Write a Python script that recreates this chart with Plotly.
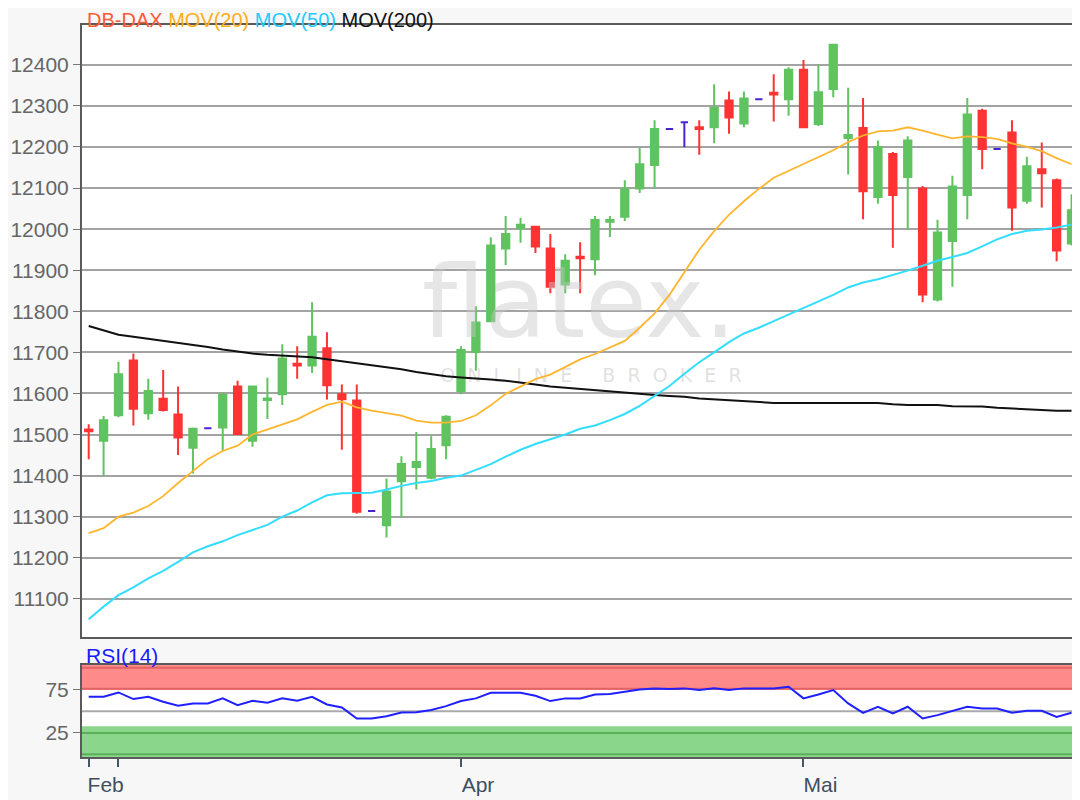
import plotly.graph_objects as go

# ---------------- data ----------------
opens = [11512, 11485, 11547, 11680, 11552, 11587, 11549, 11468, 11515, 11517,
         11617, 11485, 11584, 11598, 11672, 11668, 11710, 11598, 11583, 11314,
         11279, 11386, 11421, 11395, 11474, 11606, 11701, 11776, 11953, 12002,
         12006, 11953, 11865, 11933, 11927, 12018, 12030, 12099, 12156, 12244,
         12260, 12248, 12248, 12313, 12257, 12316, 12332, 12316, 12388, 12256,
         12341, 12222, 12246, 12078, 12183, 12127, 12099, 11829, 11971, 12083,
         12288, 12195, 12235, 12069, 12146, 12119, 11965]
highs = [11525, 11545, 11677, 11697, 11636, 11657, 11617, 11517, 11515, 11603,
         11631, 11617, 11638, 11720, 11715, 11822, 11749, 11622, 11622, 11314,
         11393, 11447, 11506, 11496, 11547, 11715, 11812, 11980, 12032, 12028,
         12006, 11988, 11939, 11968, 12032, 12032, 12119, 12198, 12265, 12244,
         12260, 12265, 12353, 12335, 12335, 12316, 12377, 12394, 12412, 12400,
         12449, 12344, 12319, 12216, 12188, 12226, 12105, 12023, 12130, 12319,
         12293, 12195, 12265, 12176, 12211, 12123, 12085]
lows = [11440, 11400, 11542, 11522, 11536, 11556, 11450, 11405, 11515, 11460,
        11499, 11470, 11538, 11572, 11636, 11650, 11585, 11463, 11307, 11314,
        11249, 11298, 11366, 11391, 11440, 11598, 11655, 11776, 11913, 11967,
        11942, 11844, 11844, 11844, 11888, 11981, 12020, 12088, 12099, 12244,
        12200, 12181, 12209, 12232, 12248, 12316, 12262, 12276, 12248, 12251,
        12321, 12133, 12024, 12062, 11955, 12000, 11822, 11824, 11860, 12024,
        12146, 12195, 11996, 12062, 12053, 11922, 11960]
closes = [11508, 11535, 11647, 11563, 11606, 11560, 11493, 11514, 11515, 11597,
          11501, 11617, 11588, 11685, 11668, 11738, 11620, 11586, 11312, 11314,
          11361, 11428, 11433, 11465, 11543, 11706, 11773, 11960, 11988, 12011,
          11958, 11860, 11923, 11929, 12022, 12022, 12097, 12158, 12244, 12244,
          12260, 12244, 12295, 12272, 12318, 12316, 12328, 12388, 12248, 12333,
          12449, 12229, 12092, 12200, 12083, 12216, 11841, 11992, 12104, 12279,
          12195, 12195, 12053, 12153, 12136, 11948, 12046]

mov20 = [11260, 11272, 11300, 11310, 11326, 11350, 11382, 11410, 11440, 11460,
         11473, 11500, 11512, 11524, 11537, 11555, 11572, 11580, 11566, 11558,
         11552, 11546, 11534, 11529, 11529, 11533, 11547, 11571, 11599, 11618,
         11635, 11646, 11664, 11683, 11696, 11712, 11728, 11760, 11795, 11840,
         11895, 11950, 11995, 12035, 12068, 12098, 12125, 12142, 12160, 12175,
         12192, 12212, 12228, 12238, 12240, 12248, 12240, 12230, 12221, 12226,
         12224, 12220, 12209, 12200, 12190, 12173, 12158]
mov50 = [11050, 11081, 11109, 11128, 11150, 11168, 11190, 11213, 11228, 11240,
         11255, 11268, 11280, 11300, 11315, 11335, 11352, 11357, 11358, 11358,
         11366, 11375, 11382, 11387, 11395, 11400, 11414, 11428, 11446, 11463,
         11477, 11488, 11500, 11514, 11522, 11535, 11550, 11570, 11593, 11618,
         11648, 11676, 11700, 11725, 11746, 11760, 11776, 11792, 11808, 11825,
         11840, 11858, 11870, 11878, 11888, 11899, 11911, 11923, 11932, 11942,
         11958, 11975, 11988, 11996, 11999, 12004, 12011]
mov200 = [11764, 11754, 11743, 11738, 11733, 11728, 11723, 11719, 11713, 11707,
          11702, 11697, 11694, 11692, 11691, 11688, 11683, 11678, 11674, 11669,
          11664, 11659, 11652, 11647, 11642, 11639, 11637, 11634, 11631, 11627,
          11622, 11617, 11614, 11611, 11608, 11605, 11601, 11598, 11596, 11594,
          11592, 11588, 11586, 11583, 11581, 11579, 11577, 11577, 11577, 11577,
          11577, 11577, 11577, 11577, 11574, 11572, 11572, 11572, 11569, 11568,
          11568, 11565, 11563, 11562, 11559, 11558, 11558]
rsi14 = [66.9, 66.9, 71.9, 64.2, 66.9, 61.1, 56.4, 59.2, 59.2, 65.0,
         57.2, 62.2, 59.9, 65.0, 62.2, 66.9, 58.0, 54.5, 41.7, 41.7,
         44.4, 48.7, 49.0, 51.5, 56.0, 62.0, 65.0, 71.5, 71.5, 71.5,
         68.1, 61.9, 65.0, 65.0, 69.6, 70.0, 72.7, 75.4, 76.6, 75.8,
         76.6, 74.7, 76.6, 74.7, 76.6, 76.6, 76.6, 78.5, 65.0, 69.6,
         74.7, 59.2, 48.3, 55.3, 47.5, 55.3, 41.7, 45.6, 50.6, 55.3,
         53.3, 53.3, 48.3, 50.6, 50.6, 43.6, 48.3]

x_idx = list(range(len(closes)))
price_ticks = [11100, 11200, 11300, 11400, 11500, 11600, 11700, 11800,
               11900, 12000, 12100, 12200, 12300, 12400]
month_tick_pos = [0, 2, 25, 48]
month_tick_text = ["Feb", "", "Apr", "Mai"]
rsi_ticks = [25, 75]

# ---------------- styles ----------------
GREEN = "#5fc35f"
RED = "#ff3333"
BLUE = "#4a22d4"
FONT = "Liberation Sans, Arial, sans-serif"
X_RANGE = [-0.45, 66.3]
Y_RANGE = [11007, 12497]
RSI_RANGE = [-2.9, 103.7]

fig = go.Figure()

# watermark (behind the data)
wm_x = X_RANGE[0] + 0.50 * (X_RANGE[1] - X_RANGE[0])
fig.add_trace(go.Scatter(
    x=[wm_x], y=[Y_RANGE[0] + 0.531 * (Y_RANGE[1] - Y_RANGE[0])],
    mode="text", text=["flatex."],
    textfont=dict(family="DejaVu Sans", size=100, color="rgba(200,200,200,0.45)"),
    hoverinfo="skip", showlegend=False, xaxis="x", yaxis="y"))
fig.add_trace(go.Scatter(
    x=[wm_x + 0.8], y=[Y_RANGE[0] + 0.425 * (Y_RANGE[1] - Y_RANGE[0])],
    mode="text", text=["O  N  L  I  N  E     B  R  O  K  E  R"],
    textfont=dict(family="DejaVu Sans", size=19, color="rgba(205,205,205,0.6)"),
    hoverinfo="skip", showlegend=False, xaxis="x", yaxis="y"))

# candles split into up / down / unchanged
groups = {"up": [], "down": [], "flat": []}
for i in x_idx:
    if closes[i] > opens[i]:
        groups["up"].append(i)
    elif closes[i] < opens[i]:
        groups["down"].append(i)
    else:
        groups["flat"].append(i)

for key, col in (("up", GREEN), ("down", RED), ("flat", BLUE)):
    ids = groups[key]
    fig.add_trace(go.Candlestick(
        x=ids,
        open=[opens[i] for i in ids], high=[highs[i] for i in ids],
        low=[lows[i] for i in ids], close=[closes[i] for i in ids],
        increasing=dict(line=dict(color=col, width=2), fillcolor=col),
        decreasing=dict(line=dict(color=col, width=2), fillcolor=col),
        whiskerwidth=0, showlegend=False, xaxis="x", yaxis="y"))

fig.add_trace(go.Scatter(x=x_idx, y=mov200, mode="lines",
                         line=dict(color="#111111", width=2),
                         showlegend=False, xaxis="x", yaxis="y"))
fig.add_trace(go.Scatter(x=x_idx, y=mov50, mode="lines",
                         line=dict(color="#33ddff", width=2),
                         showlegend=False, xaxis="x", yaxis="y"))
fig.add_trace(go.Scatter(x=x_idx, y=mov20, mode="lines",
                         line=dict(color="#ffb52e", width=1.8),
                         showlegend=False, xaxis="x", yaxis="y"))

# RSI
fig.add_trace(go.Scatter(x=x_idx, y=rsi14, mode="lines",
                         line=dict(color="#1f1fff", width=2),
                         showlegend=False, xaxis="x2", yaxis="y2"))

shapes = [
    dict(type="rect", xref="x2 domain", yref="y2", x0=0, x1=1, y0=74.6, y1=RSI_RANGE[1],
         fillcolor="#ff8a8a", line=dict(width=0), layer="below"),
    dict(type="rect", xref="x2 domain", yref="y2", x0=0, x1=1, y0=RSI_RANGE[0], y1=32.8,
         fillcolor="#8ad68a", line=dict(width=0), layer="below"),
    dict(type="line", xref="x2 domain", yref="y2", x0=0, x1=1, y0=100.4, y1=100.4,
         line=dict(color="#e06464", width=2), layer="below"),
    dict(type="line", xref="x2 domain", yref="y2", x0=0, x1=1, y0=76.3, y1=76.3,
         line=dict(color="#e06464", width=2), layer="below"),
    dict(type="line", xref="x2 domain", yref="y2", x0=0, x1=1, y0=25, y1=25,
         line=dict(color="#5cb05c", width=2), layer="below"),
    dict(type="line", xref="x2 domain", yref="y2", x0=0, x1=1, y0=0.3, y1=0.3,
         line=dict(color="#5cb05c", width=2), layer="below"),
    dict(type="line", xref="x2 domain", yref="y2", x0=0, x1=1, y0=50, y1=50,
         line=dict(color="#aaaaaa", width=2), layer="below"),
]

title_html = ("<span style='color:#ff5a36'>DB-DAX</span> "
              "<span style='color:#ffae1a'>MOV(20)</span> "
              "<span style='color:#22ccff'>MOV(50)</span> "
              "<span style='color:#111111'>MOV(200)</span>")

axis_line = dict(showline=True, linecolor="#5a5a5a", linewidth=2, mirror=True)

# the page body has an 8px margin, so the figure is sized and padded for it
fig.update_layout(
    width=1072, height=792,
    margin=dict(l=72, r=2, t=17, b=43),
    paper_bgcolor="#f7f7f7", plot_bgcolor="#ffffff",
    font=dict(family=FONT, size=21, color="#666666"),
    boxgap=0.3,
    shapes=shapes,
    xaxis=dict(domain=[0, 1], range=X_RANGE, showticklabels=False, ticks="",
               showgrid=False, zeroline=False, rangeslider=dict(visible=False),
               anchor="y", **axis_line),
    yaxis=dict(domain=[0.1639, 1], range=Y_RANGE, tickvals=price_ticks,
               ticktext=[str(v) for v in price_ticks],
               showgrid=True, gridcolor="#a3a3a3", gridwidth=2, zeroline=False,
               ticks="outside", ticklen=7, tickcolor="#777777", tickwidth=1,
               tickfont=dict(size=21, color="#666666"), anchor="x", **axis_line),
    xaxis2=dict(domain=[0, 1], range=X_RANGE, tickvals=month_tick_pos,
                ticktext=month_tick_text, ticks="outside", ticklen=8,
                tickcolor="#445566", tickwidth=2, ticklabelshift=17,
                tickfont=dict(size=21, color="#3d4f60"),
                showgrid=False, zeroline=False, anchor="y2", **axis_line),
    yaxis2=dict(domain=[0, 0.1257], range=RSI_RANGE, tickvals=rsi_ticks,
                showgrid=False, zeroline=False, ticks="outside", ticklen=7,
                tickcolor="#777777", tickfont=dict(size=21, color="#666666"),
                anchor="x2", **axis_line),
    annotations=[
        dict(text=title_html, xref="paper", yref="paper", x=0.003, y=1.0068,
             xanchor="left", yanchor="middle", showarrow=False,
             font=dict(family=FONT, size=20)),
        dict(text="RSI(14)", xref="paper", yref="paper", x=0.002, y=0.139,
             xanchor="left", yanchor="middle", showarrow=False,
             font=dict(family=FONT, size=21, color="#1a1aff")),
    ],
    showlegend=False,
)

fig.write_html("out.html")
